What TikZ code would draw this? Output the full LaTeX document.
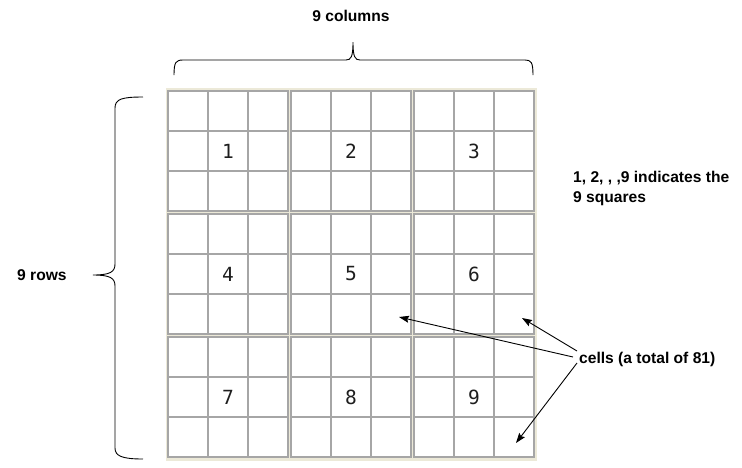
\documentclass[tikz,border=0pt]{standalone}
\usepackage{fontspec}
\setmainfont{Liberation Sans}
\newfontfamily\numfont{DejaVu Sans Mono}
\usetikzlibrary{arrows.meta}
\definecolor{frameBeige}{RGB}{236,233,216}
\definecolor{lineGray}{RGB}{166,166,166}
\definecolor{numGray}{RGB}{30,30,30}
\begin{document}
\begin{tikzpicture}[x=1pt,y=-1pt,
 cell/.style={draw=lineGray, fill=white, line width=1.6pt, minimum size=40pt, inner sep=0pt, outer sep=0pt},
 num/.style={font=\numfont\fontsize{19.5}{19.5}\selectfont, text=numGray, inner sep=0pt},
 lbl/.style={font=\bfseries\fontsize{15.6}{20}\selectfont, inner sep=0pt},
 bracepath/.style={line width=0.9pt},
 arr/.style={line width=0.9pt, -{Stealth[length=10pt,width=7pt,inset=1.5pt]}}]
\useasboundingbox (0,0) rectangle (742,467);
\fill[frameBeige] (165.5,88) rectangle (537,460.5);
\foreach \r in {1,...,9}{
 \foreach \c in {1,...,9}{
  \pgfmathsetmacro\cx{168+123*int((\c-1)/3)+40*mod(\c-1,3)+20}
  \pgfmathsetmacro\cy{91+123*int((\r-1)/3)+40*mod(\r-1,3)+20}
  \node[cell] (c-\r-\c) at (\cx,\cy) {};
 }}
\node[num] (n1) at (c-2-2) {1};
\node[num] (n2) at (c-2-5) {2};
\node[num] (n3) at (c-2-8) {3};
\node[num] (n4) at (c-5-2) {4};
\node[num] (n5) at (c-5-5) {5};
\node[num] (n6) at (c-5-8) {6};
\node[num] (n7) at (c-8-2) {7};
\node[num] (n8) at (c-8-5) {8};
\node[num] (n9) at (c-8-8) {9};
% braces
\draw[bracepath] (174,75) .. controls (174,62) and (176,60) .. (183,60) -- (346,60)
  .. controls (351,60) and (353,57) .. (353,42)
  .. controls (353,57) and (355,60) .. (360,60) -- (525,60)
  .. controls (531,60) and (533,62) .. (533,75);
\draw[bracepath] (143,97) .. controls (122,97) and (115,99) .. (115,108) -- (115,264)
  .. controls (115,272) and (110,275) .. (93,275)
  .. controls (110,275) and (115,278) .. (115,286) -- (115,448)
  .. controls (115,456) and (122,459) .. (143,459);
% labels
\node[lbl, anchor=base] (cols) at (351,21) {9 columns};
\node[lbl, anchor=base west] (rows) at (17,280) {9 rows};
\node[lbl, anchor=north west, align=left] (sq) at (573,171) {1, 2, , ,9 indicates the\\9 squares};
\node[lbl, anchor=base west] (cells) at (579,363) {cells (a total of 81)};
% arrows
\draw[arr] ([shift={(-6,-6)}]cells.base west) -- ([shift={(8,3)}]c-6-6.center);
\draw[arr] ([shift={(-2,-12)}]cells.base west) -- ([shift={(8,4)}]c-6-9.center);
\draw[arr] ([shift={(-2,0)}]cells.base west) -- ([shift={(2,6)}]c-9-9.center);
\end{tikzpicture}
\end{document}
